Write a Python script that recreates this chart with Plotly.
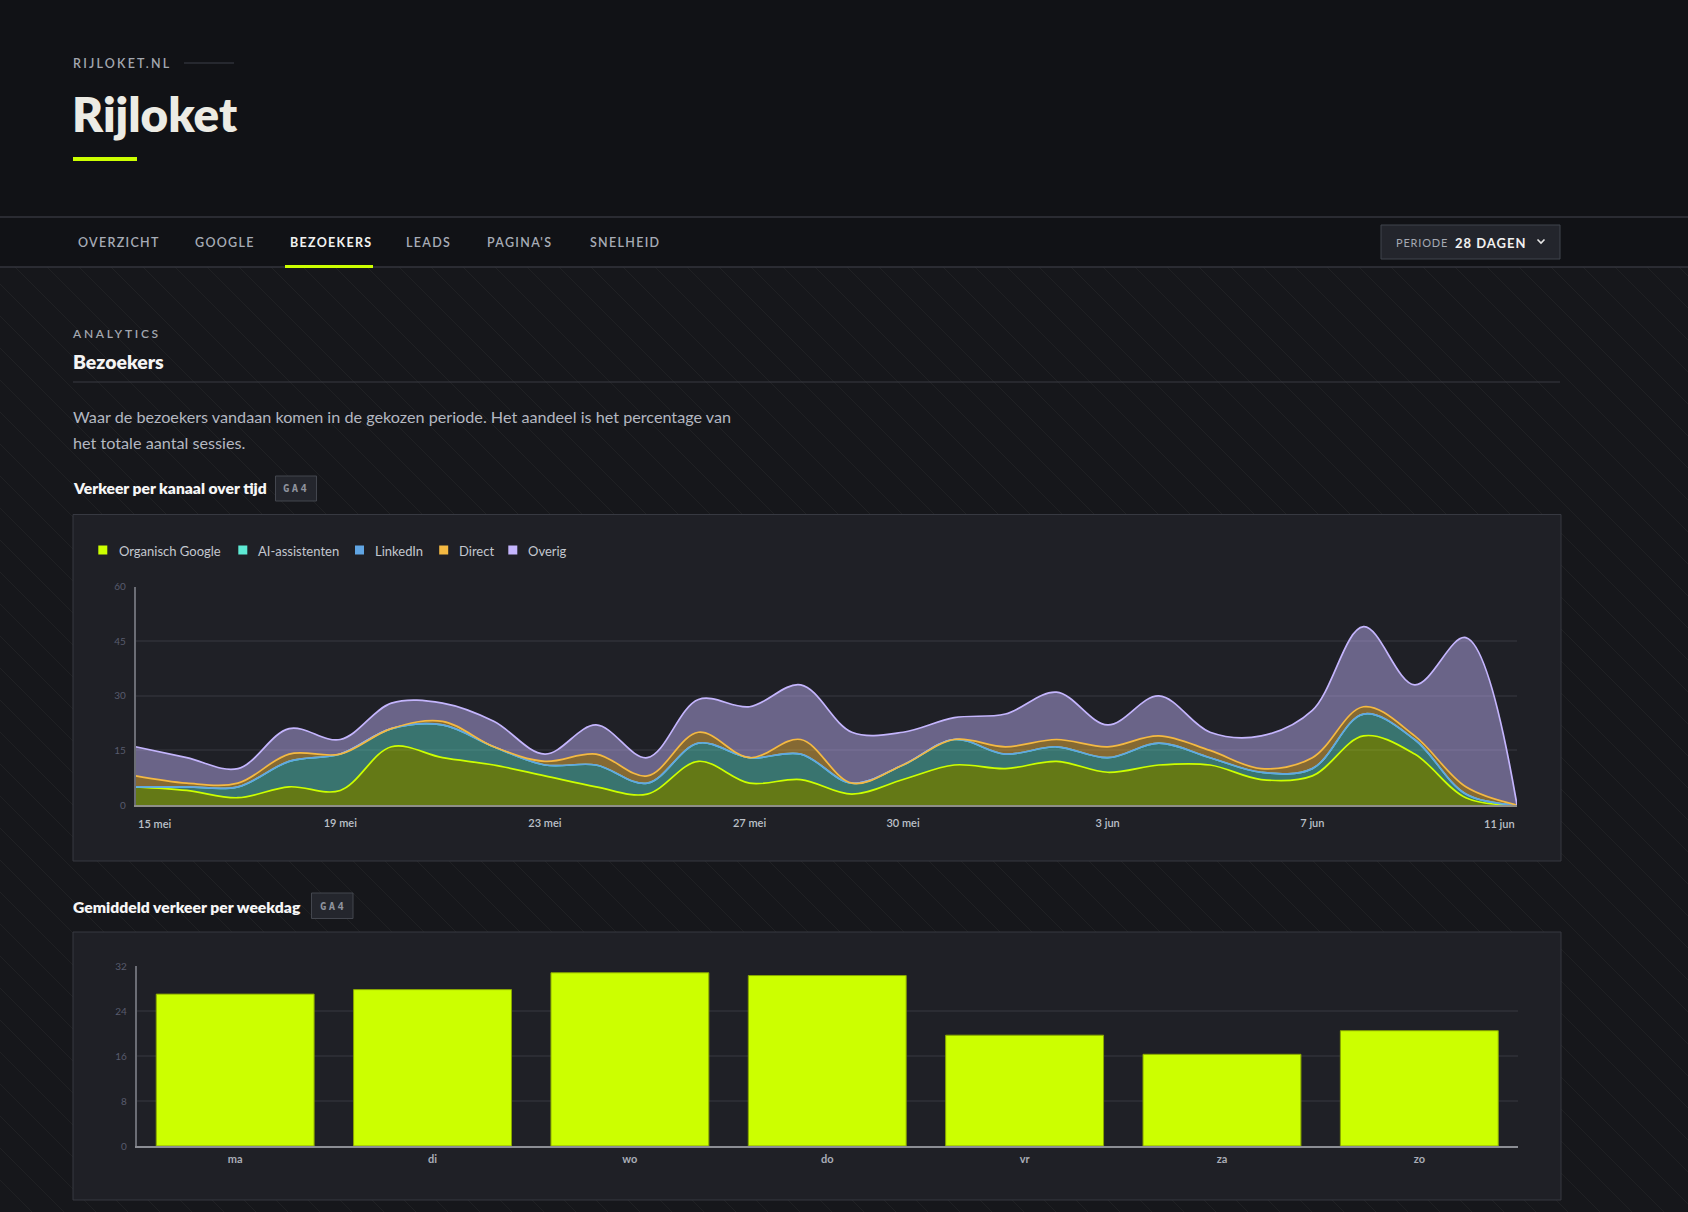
import plotly.graph_objects as go
import pandas as pd

W, H = 1688, 1212

# ---------------- data ----------------
DATES = pd.date_range("2025-05-15", "2025-06-11", freq="D")
ORGANISCH_GOOGLE = [5, 4, 2, 5, 4, 16, 13, 11, 8, 5, 3, 12, 6, 7, 3, 7, 11, 10, 12, 9, 11, 11, 7, 8, 19, 14, 2, 0]
AI_ASSISTENTEN = [0, 1, 3, 7, 10, 5, 9, 5, 3, 6, 3, 5, 7, 7, 3, 4, 7, 4, 4, 4, 6, 2, 2, 2, 6, 4, 1, 0]
LINKEDIN = [0, 0, 0, 0, 0, 0, 0, 0, 0, 0, 0, 0, 0, 0, 0, 0, 0, 0, 0, 0, 0, 0, 0, 0, 0, 0, 0, 0]
DIRECT = [3, 1, 1, 2, 0, 0, 1, 0, 1, 3, 2, 3, 0, 4, 0, 0, 0, 2, 2, 3, 2, 2, 1, 3, 2, 1, 2, 0]
OVERIG = [8, 7, 4, 7, 4, 7, 5, 7, 2, 8, 5, 9, 14, 15, 14, 9, 6, 9, 13, 6, 11, 5, 9, 13, 22, 14, 41, 0]

CHANNELS = ["Organisch Google", "AI-assistenten", "LinkedIn", "Direct", "Overig"]
X_TICK_DAYS = [0, 4, 8, 12, 15, 19, 23, 27]
X_TICK_LABELS = ["15 mei", "19 mei", "23 mei", "27 mei", "30 mei", "3 jun", "7 jun", "11 jun"]
Y1_TICKS = [0, 15, 30, 45, 60]

WEEKDAYS = ["ma", "di", "wo", "do", "vr", "za", "zo"]
WEEKDAY_AVG = [27.0, 27.8, 30.8, 30.3, 19.7, 16.3, 20.5]
Y2_TICKS = [0, 8, 16, 24, 32]

NAV_ITEMS = ["OVERZICHT", "GOOGLE", "BEZOEKERS", "LEADS", "PAGINA'S", "SNELHEID"]

# ---------------- style ----------------
FONT = "Lato"
LINE_COLORS = ["#ccff00", "#5eead4", "#60a5e4", "#f4b942", "#c4b5fd"]
FILL_COLORS = ["rgba(204,255,0,0.40)", "rgba(94,234,212,0.42)", "rgba(96,165,228,0.42)",
               "rgba(244,185,66,0.48)", "rgba(196,181,253,0.46)"]


def X(px):
    return px / W


def Y(py):
    return 1 - py / H


def ls(text, px):
    return f'<span style="letter-spacing:{px}px">{text}</span>'


fig = go.Figure()

series = [ORGANISCH_GOOGLE, AI_ASSISTENTEN, LINKEDIN, DIRECT, OVERIG]
for name, vals, lc, fc in zip(CHANNELS, series, LINE_COLORS, FILL_COLORS):
    fig.add_trace(go.Scatter(
        x=DATES, y=vals, name=name, stackgroup="kanaal", mode="lines",
        line=dict(color=lc, width=1.7, shape="spline", smoothing=1.0),
        fillcolor=fc, showlegend=False, xaxis="x", yaxis="y", hoverinfo="skip"))

fig.add_trace(go.Bar(
    x=WEEKDAYS, y=WEEKDAY_AVG, name="Gemiddeld", showlegend=False,
    marker=dict(color="#ccff00", line=dict(color="#88a600", width=1)),
    xaxis="x2", yaxis="y2", hoverinfo="skip"))

# ---------------- shapes ----------------
shapes = []

# diagonal background stripes
segs = []
y0, y1 = 267, H
x0 = -(y1 - y0)
while x0 < W:
    segs.append(f"M{X(x0):.5f},{Y(y0):.5f} L{X(x0 + (y1 - y0)):.5f},{Y(y1):.5f}")
    x0 += 32
shapes.append(dict(type="path", xref="paper", yref="paper", path=" ".join(segs),
                   line=dict(color="rgba(255,255,255,0.045)", width=1), layer="below"))


def rect(xa, ya, xb, yb, fill, line=None, lw=1):
    return dict(type="rect", xref="paper", yref="paper", x0=X(xa), x1=X(xb), y0=Y(yb), y1=Y(ya),
                fillcolor=fill, line=dict(color=line or "rgba(0,0,0,0)", width=lw if line else 0),
                layer="below")


def hline(xa, xb, y, color, lw=1):
    return dict(type="line", xref="paper", yref="paper", x0=X(xa), x1=X(xb), y0=Y(y), y1=Y(y),
                line=dict(color=color, width=lw), layer="below")


# header
shapes.append(rect(0, 0, W, 267, "#111216"))
shapes.append(hline(0, W, 217, "#33353d", 1.5))
shapes.append(hline(0, W, 267, "#33353d", 1.5))
shapes.append(hline(184, 234, 63, "#3c3f48", 1))
shapes.append(rect(73, 157, 137, 161, "#ccff00"))
shapes.append(rect(285, 265, 373, 268, "#ccff00"))
# period dropdown
shapes.append(rect(1381, 225, 1560, 259, "#23252c", "#41444c", 1))
shapes.append(dict(type="path", xref="paper", yref="paper",
                   path=f"M{X(1537.5)},{Y(239.5)} L{X(1541)},{Y(243)} L{X(1544.5)},{Y(239.5)}",
                   line=dict(color="#e6e6e6", width=1.6), layer="below"))
# section divider
shapes.append(hline(73, 1560, 382, "#393b43", 1))
# badges
shapes.append(rect(275.5, 476, 316.5, 501, "#24262d", "#43464e", 1))
shapes.append(rect(311.5, 893, 353, 918.5, "#24262d", "#43464e", 1))
# panels
shapes.append(rect(73, 514.5, 1561, 861, "#1f2026", "#373941", 1))
shapes.append(rect(73, 932, 1561, 1200, "#1f2026", "#373941", 1))

# legend squares
LEG_SQ_X = [98.3, 238.3, 355, 439.2, 508.3]
LEG_TX_X = [116.7, 256, 373.3, 457.3, 526]
for sx, c in zip(LEG_SQ_X, LINE_COLORS):
    shapes.append(rect(sx, 545.5, sx + 9, 554.5, c))

# ---------------- annotations ----------------
ann = []


def text(x, y, s, size, color, weight=400, xanchor="left", family=FONT):
    ann.append(dict(x=X(x), y=Y(y), xref="paper", yref="paper", text=s, showarrow=False,
                    xanchor=xanchor, yanchor="middle",
                    font=dict(family=family, size=size, color=color, weight=weight)))


text(71, 64, ls("RIJLOKET.NL", 2.2), 12.5, "#a3a7b0", 600)
text(70, 114, "Rijloket", 47.5, "#ecebe4", 800)

NAV_X = [76, 193, 288, 404, 485, 588]
for item, nx in zip(NAV_ITEMS, NAV_X):
    active = item == "BEZOEKERS"
    text(nx, 242.5, ls(item, 1.3), 12.5, "#f2f2f2" if active else "#a7acb6", 700 if active else 600)

text(1394, 242, ls("PERIODE", 0.8), 11, "#a4a8b2", 400)
text(1453, 243, ls("28 DAGEN", 1.0), 13, "#f1f1f1", 700)

text(70, 334, ls("ANALYTICS", 2.7), 12, "#a3a7b0", 600)
text(71, 361.5, "Bezoekers", 19.4, "#f4f4f4", 800)
text(71, 416.5, "Waar de bezoekers vandaan komen in de gekozen periode. Het aandeel is het percentage van",
     16.2, "#b4b8c1", 400)
text(71, 443, "het totale aantal sessies.", 16.2, "#b4b8c1", 400)

text(71, 488.5, "Verkeer per kanaal over tijd", 15.6, "#f6f6f6", 800)
text(296, 488.5, ls("GA4", 2.4), 10.5, "#8f939d", 700, xanchor="center", family="DejaVu Sans Mono")
text(71, 906.5, "Gemiddeld verkeer per weekdag", 15.7, "#f6f6f6", 800)
text(332.5, 906, ls("GA4", 2.4), 10.5, "#8f939d", 700, xanchor="center", family="DejaVu Sans Mono")

for name, tx in zip(CHANNELS, LEG_TX_X):
    text(tx, 550.5, name, 13, "#c3c7cf", 400)

# end labels of the time axis (first left-aligned, last right-aligned)
ann.append(dict(x=DATES[X_TICK_DAYS[0]], y=Y(823.5), xref="x", yref="paper", text=X_TICK_LABELS[0],
                showarrow=False, xanchor="left", yanchor="middle",
                font=dict(family=FONT, size=11, color="#bcc0c9", weight=600)))
ann.append(dict(x=DATES[X_TICK_DAYS[-1]], y=Y(823.5), xref="x", yref="paper", text=X_TICK_LABELS[-1],
                showarrow=False, xanchor="right", yanchor="middle",
                font=dict(family=FONT, size=11, color="#bcc0c9", weight=600)))

# ---------------- layout ----------------
fig.update_layout(
    width=W, height=H, autosize=False,
    margin=dict(l=0, r=0, t=0, b=0, pad=0, autoexpand=False),
    paper_bgcolor="#16171b", plot_bgcolor="rgba(0,0,0,0)",
    font=dict(family=FONT, color="#c0c4cc"),
    shapes=shapes, annotations=ann,
    bargap=0.2, showlegend=False, hovermode=False,
    xaxis=dict(domain=[X(135.6), X(1517)], anchor="y", type="date",
               range=[DATES[0], DATES[-1]],
               tickvals=[DATES[d] for d in X_TICK_DAYS[1:-1]], ticktext=X_TICK_LABELS[1:-1],
               tickfont=dict(family=FONT, size=11, color="#bcc0c9", weight=600),
               ticks="", ticklabelstandoff=7, showgrid=False, zeroline=False,
               showline=True, linecolor="#8f8f88", linewidth=2),
    yaxis=dict(domain=[Y(805), Y(586.7)], anchor="x", range=[0, 60], tickvals=Y1_TICKS,
               tickfont=dict(family=FONT, size=10, color="#585b6d"),
               ticks="", ticklabelstandoff=6, showgrid=True, gridcolor="#2b2c33", gridwidth=1.5,
               zeroline=False, showline=True, linecolor="#6b6d75", linewidth=1.5),
    xaxis2=dict(domain=[X(136.5), X(1518)], anchor="y2", type="category",
                tickfont=dict(family=FONT, size=11, color="#a9adb7", weight=700),
                ticks="", ticklabelstandoff=2, showgrid=False, zeroline=False,
                showline=True, linecolor="#8b8d94", linewidth=2),
    yaxis2=dict(domain=[Y(1146), Y(966)], anchor="x2", range=[0, 32], tickvals=Y2_TICKS,
                tickfont=dict(family=FONT, size=10, color="#585b6d"),
                ticks="", ticklabelstandoff=6, showgrid=True, gridcolor="#2b2c33", gridwidth=1.5,
                zeroline=False, showline=True, linecolor="#6b6d75", linewidth=1.5),
)

fig.write_html("out.html", config={"displayModeBar": False})
